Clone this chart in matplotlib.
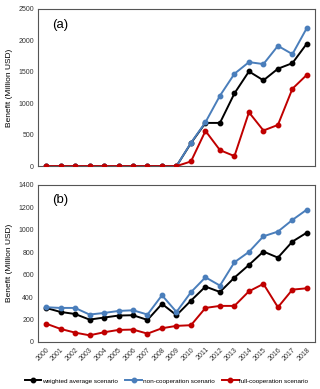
import numpy as np
import matplotlib.pyplot as plt

years = list(range(2000, 2019))

# panel (a)
a_weighted = [0, 0, 0, 0, 0, 0, 0, 0, 0, 0, 365, 687, 687, 1157, 1506, 1364, 1549, 1638, 1950]
a_noncoop = [0, 0, 0, 0, 0, 0, 0, 0, 0, 0, 370, 698, 1120, 1469, 1654, 1623, 1913, 1781, 2199]
a_fullcoop = [0, 0, 0, 0, 0, 0, 0, 0, 0, 0, 74, 560, 254, 159, 856, 566, 655, 1231, 1453]

# panel (b)
b_weighted = [303, 267, 249, 199, 217, 235, 238, 196, 339, 238, 368, 493, 445, 573, 686, 805, 751, 894, 974]
b_noncoop = [309, 303, 303, 244, 258, 276, 282, 244, 416, 267, 443, 576, 502, 710, 802, 941, 983, 1087, 1179]
b_fullcoop = [163, 116, 83, 59, 86, 107, 110, 74, 122, 143, 149, 303, 321, 321, 451, 517, 309, 466, 478]

labels = ['weighted average scenario', 'non-cooperation scenario', 'full-cooperation scenario']
colors = ['black', '#4a7ebb', '#c00000']
zorders = [2, 3, 4]

plt.rcParams['font.family'] = ['Liberation Sans', 'DejaVu Sans']

fig = plt.figure(figsize=(3.2, 3.89), dpi=100)
ax1 = fig.add_axes([0.119, 0.573, 0.865, 0.404])
ax2 = fig.add_axes([0.119, 0.121, 0.865, 0.404])

x = np.arange(len(years))


def draw(ax, series, ymax, ystep, tag):
    for s, c, z, lab in zip(series, colors, zorders, labels):
        ax.plot(x, s, color=c, marker='o', markersize=3.2, linewidth=1.4, label=lab, zorder=z)
    ax.set_xlim(-0.55, len(years) - 0.45)
    ax.set_ylim(0, ymax)
    ax.set_yticks(np.arange(0, ymax + 1, ystep))
    ax.tick_params(axis='both', length=0, labelsize=5, colors='#333333', pad=3)
    for sp in ax.spines.values():
        sp.set_color('#555555')
        sp.set_linewidth(0.8)
    ax.set_ylabel('Benefit (Million USD)', fontsize=6, labelpad=4)
    ax.text(0.05, 0.9, tag, transform=ax.transAxes, fontsize=9.5, va='center', ha='left')


draw(ax1, [a_weighted, a_noncoop, a_fullcoop], 2500, 500, '(a)')
ax1.set_xticks([])

draw(ax2, [b_weighted, b_noncoop, b_fullcoop], 1400, 200, '(b)')
ax2.set_xticks(x)
ax2.set_xticklabels([str(y) for y in years], rotation=45, ha='right', rotation_mode='anchor', fontsize=5)

handles, labs = ax2.get_legend_handles_labels()
fig.legend(handles, labs, loc='center', bbox_to_anchor=(0.52, 0.021), ncol=3, frameon=False,
           fontsize=4.6, handlelength=2.6, handletextpad=0.1, columnspacing=1.2, markerscale=1,
           borderpad=0, borderaxespad=0)

fig.savefig('out.png', dpi=100)
